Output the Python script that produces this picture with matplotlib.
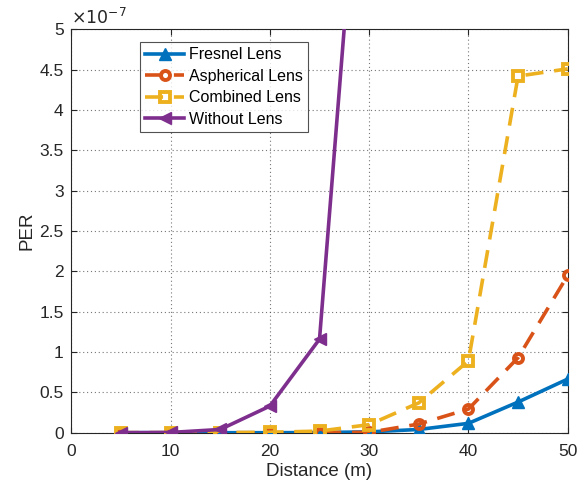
import matplotlib
matplotlib.use('Agg')
import matplotlib.pyplot as plt
from matplotlib.ticker import FuncFormatter

plt.rcParams['font.family'] = ['Liberation Sans', 'DejaVu Sans']

# distances (m)
distance = [5, 10, 15, 20, 25, 30, 35, 40, 45, 50]
distance_nolens = [5, 10, 15, 20, 25, 30]

# packet error rate
per_fresnel = [0, 0, 0, 0, 0.002e-7, 0.01e-7, 0.04e-7, 0.116e-7, 0.38e-7, 0.665e-7]
per_aspherical = [0, 0, 0, 0, 0.002e-7, 0.005e-7, 0.107e-7, 0.293e-7, 0.93e-7, 1.95e-7]
per_combined = [0, 0, 0, 0.005e-7, 0.02e-7, 0.1e-7, 0.37e-7, 0.89e-7, 4.42e-7, 4.51e-7]
per_nolens = [0, 0.003e-7, 0.04e-7, 0.33e-7, 1.16e-7, 8.9e-7]

xticks = [0, 10, 20, 30, 40, 50]
yticks = [i * 0.5e-7 for i in range(11)]

blue = '#0072BD'
orange = '#D95319'
yellow = '#EDB120'
purple = '#7E2F8E'
axcol = '#262626'

fig = plt.figure(figsize=(5.86, 4.87), dpi=100)
ax = fig.add_axes([0.1217, 0.1115, 0.8471, 0.8283])

ax.plot(distance, per_fresnel, '-', color=blue, lw=2.6, marker='^',
        ms=8, mfc=blue, mec=blue, label='Fresnel Lens', zorder=3)
ax.plot(distance, per_aspherical, '--', color=orange, lw=2.6, marker='o',
        ms=6.5, mfc='none', mec=orange, mew=2.8, dashes=(5, 3),
        label='Aspherical Lens', zorder=3)
ax.plot(distance, per_combined, '--', color=yellow, lw=2.6, marker='s',
        ms=6.5, mfc='none', mec=yellow, mew=2.8, dashes=(5, 3),
        label='Combined Lens', zorder=3)
ax.plot(distance_nolens, per_nolens, '-', color=purple, lw=2.6, marker='<',
        ms=8, mfc=purple, mec=purple, label='Without Lens', zorder=3)

ax.set_xlim(0, 50)
ax.set_ylim(0, 5e-7)
ax.set_xticks(xticks)
ax.set_yticks(yticks)
ax.yaxis.set_major_formatter(FuncFormatter(lambda v, p: f'{round(v / 1e-7, 2):g}'))
ax.grid(True, linestyle=(0, (1, 2.5)), color='#555555', lw=0.8, alpha=0.8)
ax.tick_params(direction='in', length=4, width=0.8, colors=axcol,
               labelsize=12.5, labelcolor=axcol, top=True, right=True)
ax.tick_params(axis='x', pad=8)
ax.tick_params(axis='y', pad=5.5)
for sp in ax.spines.values():
    sp.set_color(axcol)
    sp.set_linewidth(0.8)

ax.set_xlabel('Distance (m)', fontsize=13.5, color=axcol, labelpad=3)
ax.set_ylabel('PER', fontsize=13.5, color=axcol, labelpad=3)
ax.text(0.0, 1.005, r'$\times10^{-7}$', transform=ax.transAxes,
        fontsize=12.5, color=axcol, va='bottom', ha='left')

leg = ax.legend(loc='upper left', bbox_to_anchor=(0.138, 0.969),
                fontsize=11.5, frameon=True, fancybox=False, handlelength=2.4,
                handletextpad=0.3, borderpad=0.35, labelspacing=0.4,
                borderaxespad=0)
leg.get_frame().set_edgecolor(axcol)
leg.get_frame().set_linewidth(0.8)

fig.savefig('out.png', dpi=100)
